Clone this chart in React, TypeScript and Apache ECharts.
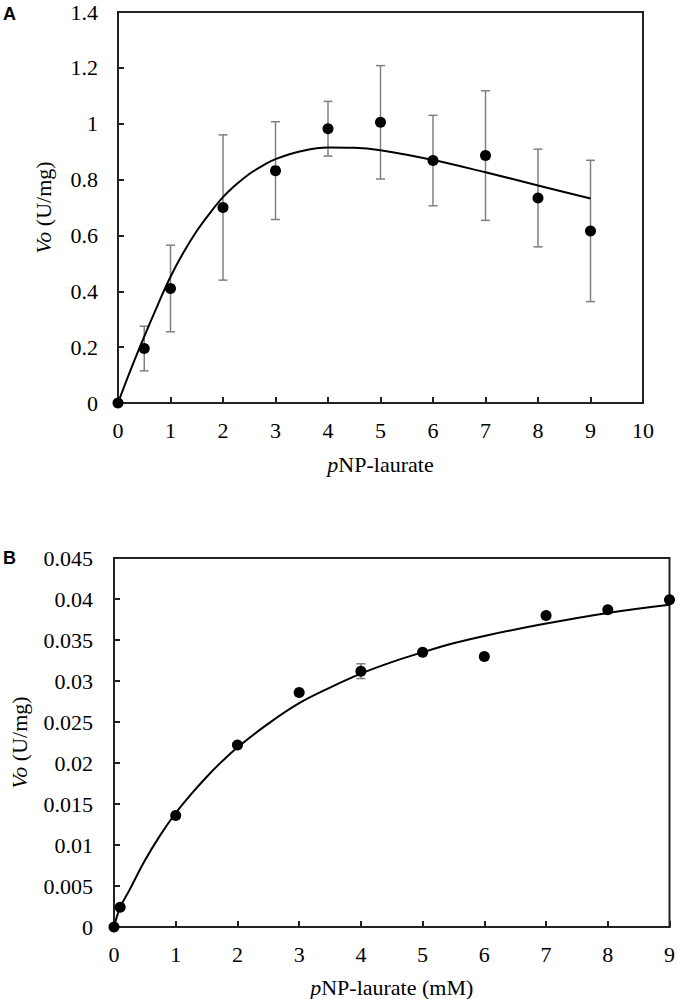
import React, { useEffect, useRef } from "react";
import * as echarts from "echarts";

// Panel A data (substrate inhibition)
const aX = [0, 0.5, 1, 2, 3, 4, 5, 6, 7, 8, 9];
const aY = [0, 0.195, 0.41, 0.7, 0.832, 0.982, 1.005, 0.868, 0.886, 0.734, 0.616];
const aErr = [0, 0.08, 0.155, 0.26, 0.175, 0.098, 0.203, 0.162, 0.232, 0.175, 0.253];
const aFitX = [0, 0.25, 0.5, 0.75, 1, 1.25, 1.5, 1.75, 2, 2.25, 2.5, 2.75, 3, 3.5, 4, 4.5, 5, 6, 7, 8, 9];
const aFitY = [0, 0.123, 0.238, 0.348, 0.452, 0.54, 0.616, 0.68, 0.737, 0.782, 0.82, 0.849, 0.873, 0.902, 0.915, 0.914, 0.905, 0.87, 0.826, 0.779, 0.732];

// Panel B data (Michaelis-Menten)
const bX = [0, 0.1, 1, 2, 3, 4, 5, 6, 7, 8, 9];
const bY = [0, 0.0024, 0.0136, 0.0222, 0.0286, 0.0312, 0.0335, 0.033, 0.038, 0.0387, 0.0399];
const bErr = [0, 0.0001, 0.0002, 0.0002, 0.0002, 0.0009, 0.0003, 0.0002, 0.0002, 0.0002, 0.0002];
const bFitX = [0, 0.1, 0.25, 0.5, 0.75, 1, 1.25, 1.5, 1.75, 2, 2.5, 3, 3.5, 4, 4.5, 5, 5.5, 6, 7, 8, 9];
const bFitY = [0, 0.0024, 0.0045, 0.0081, 0.0112, 0.0139, 0.0162, 0.0183, 0.0202, 0.0219, 0.0248, 0.0273, 0.0292, 0.0309, 0.0323, 0.0335, 0.0346, 0.0355, 0.037, 0.0383, 0.0393];

const SERIF = "Liberation Serif";
const AXIS_COLOR = "#222";
const BAR_COLOR = "#808080";

function errData(xs: number[], ys: number[], es: number[]) {
  return xs.map((x, i) => [x, ys[i] - es[i], ys[i] + es[i]]);
}

function errorRender(params: any, api: any) {
  const x = api.value(0);
  const lo = api.value(1);
  const hi = api.value(2);
  const pHi = api.coord([x, hi]);
  const pLo = api.coord([x, lo]);
  const half = 4.5;
  const style = { stroke: BAR_COLOR, lineWidth: 1.5 };
  return {
    type: "group",
    children: [
      { type: "line", shape: { x1: pHi[0], y1: pHi[1], x2: pLo[0], y2: pLo[1] }, style },
      { type: "line", shape: { x1: pHi[0] - half, y1: pHi[1], x2: pHi[0] + half, y2: pHi[1] }, style },
      { type: "line", shape: { x1: pLo[0] - half, y1: pLo[1], x2: pLo[0] + half, y2: pLo[1] }, style },
    ],
  };
}

const axisCommon = {
  axisLine: { show: true, lineStyle: { color: AXIS_COLOR, width: 2 } },
  axisTick: { show: true, inside: true, length: 6, lineStyle: { color: AXIS_COLOR, width: 2 } },
  splitLine: { show: false },
};

const labelRich = { s: { fontFamily: SERIF, fontSize: 22, color: "#000" } };
const labelFmt = (v: number) => "{s|" + String(+v.toFixed(4)) + "}";

const nameRich = {
  i: { fontFamily: SERIF, fontSize: 22, fontStyle: "italic", color: "#000" },
  n: { fontFamily: SERIF, fontSize: 22, color: "#000" },
};

export default function App() {
  const ref = useRef<HTMLDivElement>(null);
  useEffect(() => {
    if (!ref.current) return;
    const chart = echarts.init(ref.current, undefined, { renderer: "svg" });
    chart.setOption({
      animation: false,
      backgroundColor: "#fff",
      grid: [
        { left: 118, top: 12, width: 525, height: 391, show: true, borderColor: AXIS_COLOR, borderWidth: 2, backgroundColor: "transparent" },
        { left: 107, top: 558, width: 565, height: 370, show: true, borderColor: AXIS_COLOR, borderWidth: 2, backgroundColor: "transparent" },
      ],
      xAxis: [
        {
          gridIndex: 0, type: "value", min: 0, max: 10, interval: 1, ...axisCommon,
          axisLabel: { fontFamily: SERIF, fontSize: 22, color: "#000", margin: 16, formatter: labelFmt, rich: labelRich },
          name: "{i|p}{n|NP-laurate}", nameLocation: "middle", nameGap: 50,
          nameTextStyle: { rich: nameRich },
        },
        {
          gridIndex: 1, type: "value", min: 0, max: 9, interval: 1, ...axisCommon,
          axisLabel: { fontFamily: SERIF, fontSize: 22, color: "#000", margin: 16, formatter: labelFmt, rich: labelRich },
          name: "{i|p}{n|NP-laurate (mM)}", nameLocation: "middle", nameGap: 49,
          nameTextStyle: { rich: nameRich },
        },
      ],
      yAxis: [
        {
          gridIndex: 0, type: "value", min: 0, max: 1.4, interval: 0.2, ...axisCommon,
          axisLabel: { fontFamily: SERIF, fontSize: 22, color: "#000", margin: 20, formatter: labelFmt, rich: labelRich },
          name: "{i|Vo}{n| (U/mg)}", nameLocation: "middle", nameGap: 64,
          nameTextStyle: { rich: nameRich },
        },
        {
          gridIndex: 1, type: "value", min: 0, max: 0.045, interval: 0.005, ...axisCommon,
          axisLabel: { fontFamily: SERIF, fontSize: 22, color: "#000", margin: 21, formatter: labelFmt, rich: labelRich },
          name: "{i|Vo}{n| (U/mg)}", nameLocation: "middle", nameGap: 84,
          nameTextStyle: { rich: nameRich },
        },
      ],
      graphic: [
        { type: "text", left: 3, top: 5, style: { text: "A", fontFamily: "Liberation Sans", fontWeight: "bold", fontSize: 18, fill: "#000" } },
        { type: "text", left: 3, top: 549, style: { text: "B", fontFamily: "Liberation Sans", fontWeight: "bold", fontSize: 18, fill: "#000" } },
      ],
      series: [
        {
          type: "custom", xAxisIndex: 0, yAxisIndex: 0, renderItem: errorRender,
          data: errData(aX, aY, aErr), encode: { x: 0, y: [1, 2] }, z: 1,
        },
        {
          type: "line", xAxisIndex: 0, yAxisIndex: 0, smooth: 0.4,
          showSymbol: false, symbol: "none", lineStyle: { color: "#000", width: 2 },
          data: aFitX.map((x, i) => [x, aFitY[i]]), z: 2,
        },
        {
          type: "scatter", xAxisIndex: 0, yAxisIndex: 0, symbol: "circle", symbolSize: 11,
          itemStyle: { color: "#000", opacity: 1 }, clip: false,
          data: aX.map((x, i) => [x, aY[i]]), z: 3,
        },
        {
          type: "custom", xAxisIndex: 1, yAxisIndex: 1, renderItem: errorRender,
          data: errData(bX, bY, bErr), encode: { x: 0, y: [1, 2] }, z: 1,
        },
        {
          type: "line", xAxisIndex: 1, yAxisIndex: 1, smooth: 0.4,
          showSymbol: false, symbol: "none", lineStyle: { color: "#000", width: 2 },
          data: bFitX.map((x, i) => [x, bFitY[i]]), z: 2,
        },
        {
          type: "scatter", xAxisIndex: 1, yAxisIndex: 1, symbol: "circle", symbolSize: 11,
          itemStyle: { color: "#000", opacity: 1 }, clip: false,
          data: bX.map((x, i) => [x, bY[i]]), z: 3,
        },
      ],
    });
    return () => chart.dispose();
  }, []);
  return (
    <div
      ref={ref}
      style={{ position: "fixed", left: 0, top: 0, width: 678, height: 999, background: "#fff" }}
    />
  );
}
